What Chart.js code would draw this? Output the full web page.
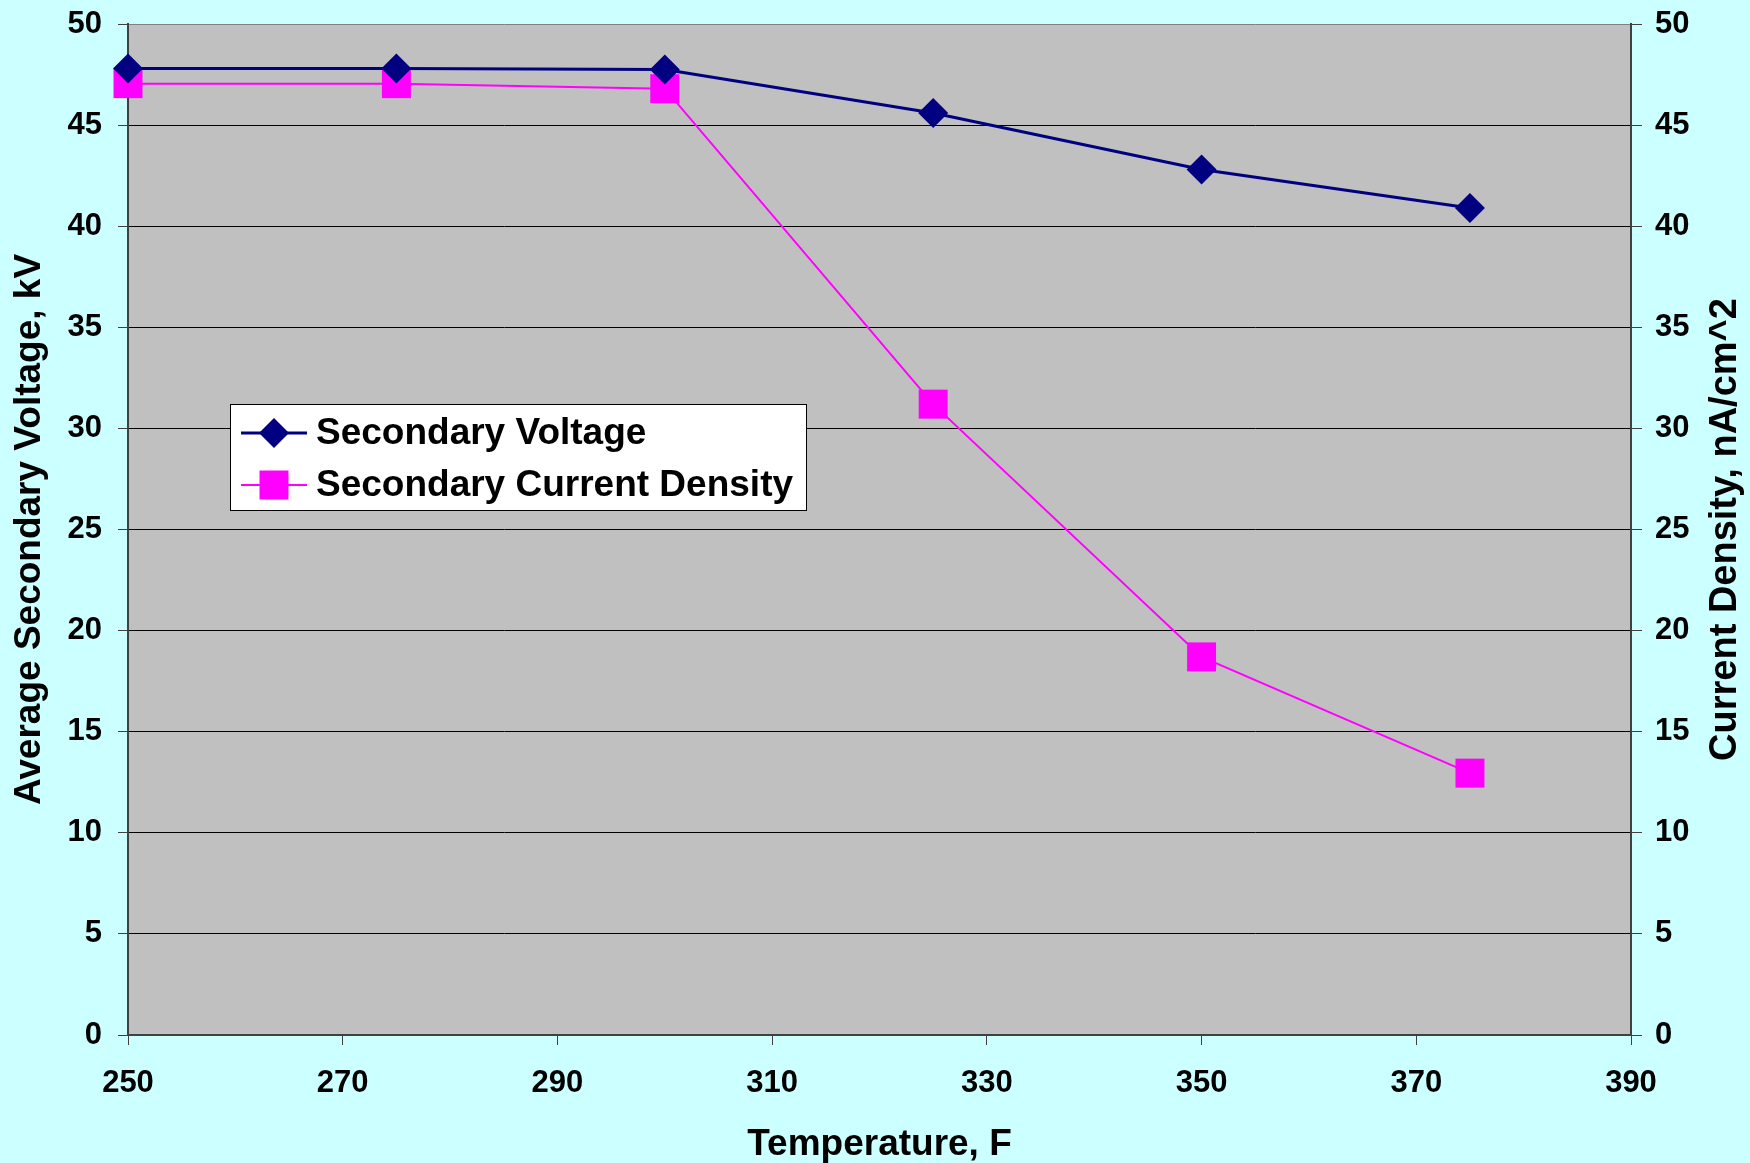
<!DOCTYPE HTML>
<html>
<head>
  <meta name='viewport' content='width=device-width, initial-scale=1'>
  <title>Secondary Voltage and Current Density vs Temperature</title>
  <script src='https://cdn.jsdelivr.net/npm/chart.js'></script>
  <style>
    body {
      margin: 0;
      padding: 0;
      background-color: #ccffff;
    }
    .wrap {
      position: relative;
      width: 1750px;
      height: 1163px;
    }
  </style>
</head>
<body>
  <div class='wrap'>
    <canvas id='tempChart'></canvas>
  </div>
  <script>
    // measured points
    var temperature = [250, 275, 300, 325, 350, 375];
    var secondaryVoltage = [47.8, 47.8, 47.75, 45.6, 42.8, 40.9];
    var currentDensity = [47.05, 47.05, 46.8, 31.2, 18.7, 12.95];

    var seriesNames = ['Secondary Voltage', 'Secondary Current Density'];
    var xTitle = 'Temperature, F';
    var leftTitle = 'Average Secondary Voltage, kV';
    var rightTitle = 'Current Density, nA/cm^2';

    var FONT = "'Liberation Sans', Arial, sans-serif";
    var TICK_FONT = { family: FONT, size: 31, weight: 'bold' };

    function toPoints(xs, ys) {
      return xs.map(function(x, i) { return {x: x, y: ys[i]}; });
    }

    // keep the plot area fixed: no extra room for half-height end labels
    function fixVertical(width) {
      return function(scale) {
        scale.width = width;
        scale.paddingTop = 0;
        scale.paddingBottom = 0;
      };
    }

    // grey plot area behind the grid
    var plotBackground = {
      id: 'plotBackground',
      beforeDraw: function(chart) {
        var a = chart.chartArea, ctx = chart.ctx;
        ctx.save();
        ctx.fillStyle = '#c0c0c0';
        ctx.fillRect(a.left, a.top, a.right - a.left, a.bottom - a.top);
        ctx.restore();
      }
    };

    // right axis title reads bottom-to-top like the left one
    var rightAxisTitle = {
      id: 'rightAxisTitle',
      afterDraw: function(chart) {
        var a = chart.chartArea, ctx = chart.ctx;
        ctx.save();
        ctx.translate(a.right + 95, (a.top + a.bottom) / 2);
        ctx.rotate(-Math.PI / 2);
        ctx.font = 'bold 38px ' + FONT;
        ctx.fillStyle = '#000';
        ctx.textAlign = 'center';
        ctx.textBaseline = 'middle';
        ctx.fillText(rightTitle, 0, 0);
        ctx.restore();
      }
    };

    // boxed legend sitting inside the plot
    var boxLegend = {
      id: 'boxLegend',
      afterDatasetsDraw: function(chart) {
        var ctx = chart.ctx;
        var box = {x: 230, y: 404, w: 576, h: 106};
        ctx.save();
        ctx.fillStyle = '#ffffff';
        ctx.fillRect(box.x, box.y, box.w, box.h);
        ctx.strokeStyle = '#000';
        ctx.lineWidth = 1;
        ctx.strokeRect(box.x + 0.5, box.y + 0.5, box.w, box.h);
        ctx.font = 'bold 37px ' + FONT;
        ctx.textBaseline = 'middle';
        chart.data.datasets.forEach(function(ds, i) {
          var cy = box.y + 29 + i * 52;
          ctx.strokeStyle = ds.borderColor;
          ctx.lineWidth = ds.borderWidth;
          ctx.beginPath();
          ctx.moveTo(box.x + 11, cy);
          ctx.lineTo(box.x + 77, cy);
          ctx.stroke();
          ctx.fillStyle = ds.pointBackgroundColor;
          Chart.helpers.drawPoint(ctx, {
            pointStyle: ds.pointStyle,
            radius: ds.pointRadius,
            rotation: 0,
            borderWidth: 0
          }, box.x + 44, cy);
          ctx.fillStyle = '#000';
          ctx.fillText(ds.label, box.x + 86, cy + 1);
        });
        ctx.restore();
      }
    };

    var ctx = document.getElementById('tempChart').getContext('2d');
    var tempChart = new Chart(ctx, {
      type: 'line',
      data: {
        datasets: [{
          label: seriesNames[0],
          data: toPoints(temperature, secondaryVoltage),
          yAxisID: 'y',
          borderColor: '#000080',
          borderWidth: 3,
          pointStyle: 'rectRot',
          pointRadius: 15,
          pointHoverRadius: 15,
          pointBackgroundColor: '#000080',
          pointBorderWidth: 0,
          tension: 0,
          clip: false
        }, {
          label: seriesNames[1],
          data: toPoints(temperature, currentDensity),
          yAxisID: 'y2',
          borderColor: '#ff00ff',
          borderWidth: 2,
          pointStyle: 'rect',
          pointRadius: 20.5,
          pointHoverRadius: 20.5,
          pointBackgroundColor: '#ff00ff',
          pointBorderWidth: 0,
          tension: 0,
          clip: false
        }]
      },
      options: {
        responsive: true,
        maintainAspectRatio: false,
        animation: false,
        layout: { padding: { top: 24, left: 0, right: 0, bottom: 0 } },
        plugins: {
          legend: { display: false },
          tooltip: { enabled: false }
        },
        scales: {
          x: {
            type: 'linear',
            position: 'bottom',
            min: 250,
            max: 390,
            afterFit: function(scale) {
              scale.height = 128;
              scale.paddingLeft = 0;
              scale.paddingRight = 0;
            },
            border: { color: '#404040', width: 2 },
            grid: { drawOnChartArea: false, tickLength: 10, tickColor: '#404040' },
            ticks: {
              stepSize: 20,
              padding: 20,
              color: '#000',
              font: TICK_FONT
            },
            title: {
              display: true,
              text: xTitle,
              color: '#000',
              padding: { top: 0, bottom: -4 },
              font: { family: FONT, size: 37, weight: 'bold' }
            }
          },
          y: {
            type: 'linear',
            position: 'left',
            min: 0,
            max: 50,
            afterFit: fixVertical(128),
            border: { color: '#404040', width: 2 },
            grid: {
              color: function(c) { return c.tick && c.tick.value === 50 ? '#808080' : '#000'; },
              lineWidth: 1,
              tickLength: 10,
              tickColor: '#404040'
            },
            ticks: {
              stepSize: 5,
              padding: 16,
              color: '#000',
              font: TICK_FONT
            },
            title: {
              display: true,
              text: leftTitle,
              color: '#000',
              padding: { top: 8, bottom: 0 },
              font: { family: FONT, size: 37, weight: 'bold' }
            }
          },
          y2: {
            type: 'linear',
            position: 'right',
            min: 0,
            max: 50,
            afterFit: fixVertical(119),
            border: { color: '#404040', width: 2 },
            grid: { drawOnChartArea: false, tickLength: 11, tickColor: '#404040' },
            ticks: {
              stepSize: 5,
              padding: 13,
              color: '#000',
              font: TICK_FONT
            }
          }
        }
      },
      plugins: [plotBackground, boxLegend, rightAxisTitle]
    });
  </script>
</body>
</html>
